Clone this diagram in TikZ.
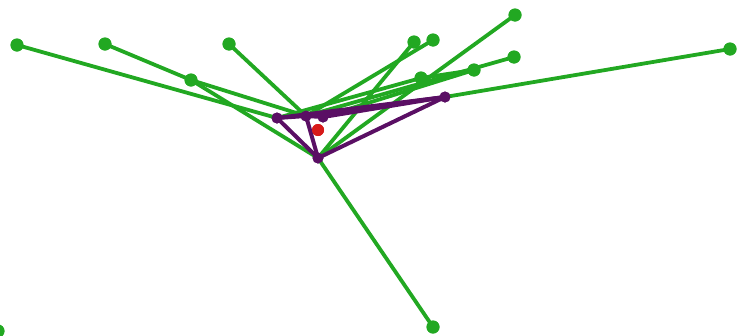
\documentclass[tikz,border=0pt]{standalone}
\definecolor{gr}{RGB}{34,168,34}
\definecolor{pu}{RGB}{90,15,100}
\definecolor{rd}{RGB}{215,25,25}
\begin{document}
\begin{tikzpicture}[x=1pt,y=-1pt,
  gdot/.style={circle,fill=gr,inner sep=0pt,minimum size=13pt},
  pdot/.style={circle,fill=pu,inner sep=0pt,minimum size=11pt},
  rdot/.style={circle,fill=rd,inner sep=0pt,minimum size=12pt},
  gline/.style={draw=gr,line width=3.8pt},
  pline/.style={draw=pu,line width=4pt}]
\useasboundingbox (0,0) rectangle (744,335);
% purple nodes
\node[pdot] (A) at (277,118) {};
\node[pdot] (B) at (306,116) {};
\node[pdot] (C) at (323,117) {};
\node[pdot] (D) at (318,158) {};
\node[pdot] (E) at (445,97) {};
% green nodes
\node[gdot] (g1) at (17,45) {};
\node[gdot] (g2) at (105,44) {};
\node[gdot] (g3) at (229,44) {};
\node[gdot] (g4) at (191,80) {};
\node[gdot] (g5) at (414,42) {};
\node[gdot] (g6) at (433,40) {};
\node[gdot] (g7) at (515,15) {};
\node[gdot] (g8) at (514,57) {};
\node[gdot] (g9) at (474,70) {};
\node[gdot] (g10) at (421,78) {};
\node[gdot] (g11) at (730,49) {};
\node[gdot] (g12) at (433,327) {};
\node[gdot] (g13) at (-2,331) {};
\node[rdot] (R) at (318,130) {};
% green edges
\path[gline] (g1.center) -- (A.center);
\path[gline] (g2.center) -- (g4.center);
\path[gline] (g4.center) -- (D.center);
\path[gline] (g4.center) -- (B.center);
\path[gline] (g3.center) -- (B.center);
\path[gline] (B.center) -- (g6.center);
\path[gline] (g5.center) -- (D.center);
\path[gline] (g7.center) -- (D.center);
\path[gline] (D.center) -- (g12.center);
\path[gline] (A.center) -- (g10.center);
\path[gline] (g10.center) -- (g9.center);
\path[gline] (C.center) -- (g9.center);
\path[gline] (B.center) -- (g8.center);
\path[gline] (E.center) -- (g11.center);
% purple edges
\path[pline] (A.center) -- (B.center) -- (C.center);
\path[pline] (A.center) -- (D.center);
\path[pline] (B.center) -- (D.center);
\path[pline] (A.center) -- (E.center);
\path[pline] (B.center) -- (E.center);
\path[pline] (C.center) -- (E.center);
\path[pline] (D.center) -- (E.center);
% redraw dots on top of the edges
\foreach \n in {g1,g2,g3,g4,g5,g6,g7,g8,g9,g10,g11,g12,g13}{\fill[gr] (\n) circle (6.5pt);}
\foreach \n in {A,B,C,D,E}{\fill[pu] (\n) circle (5.5pt);}
\fill[rd] (R) circle (6pt);
\end{tikzpicture}
\end{document}
